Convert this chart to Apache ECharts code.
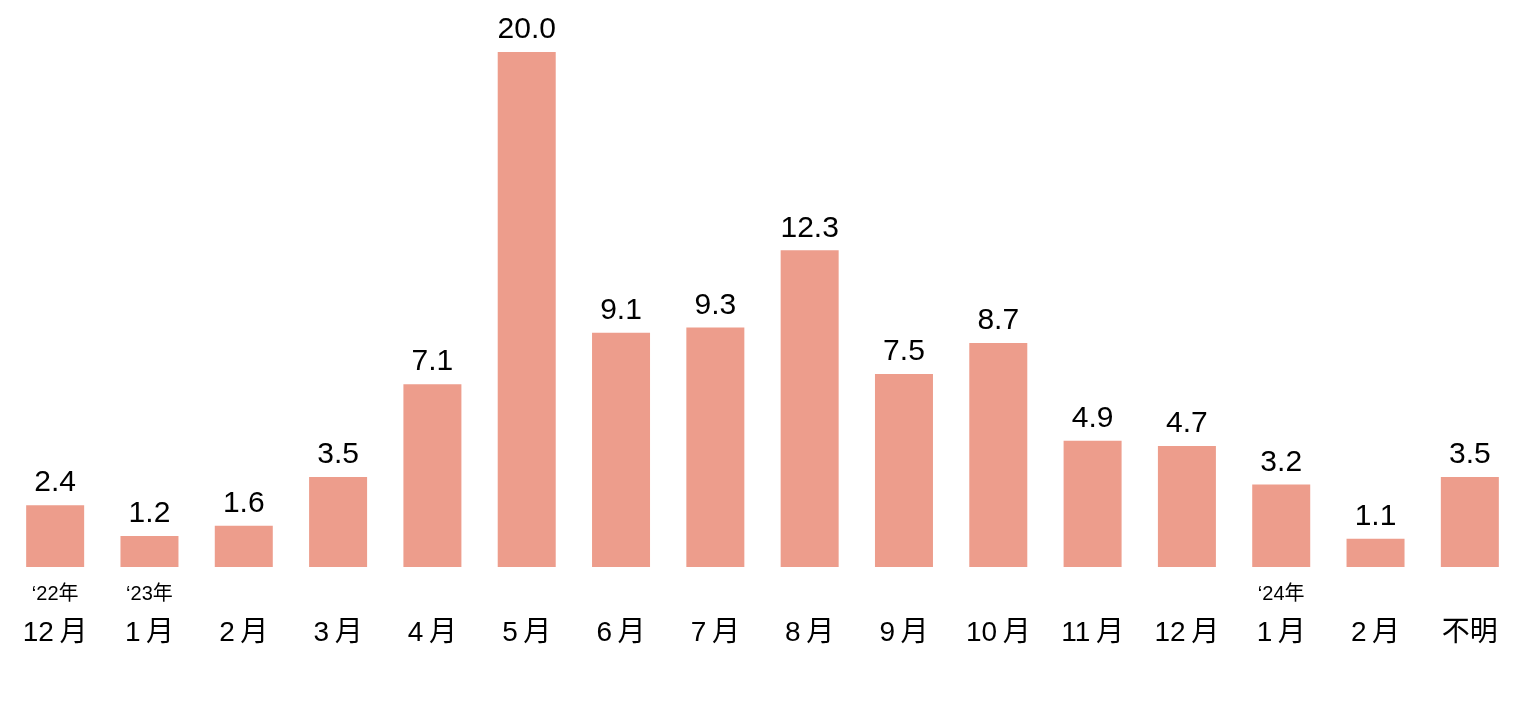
<!DOCTYPE html>
<html>
<head>
<meta charset="utf-8">
<style>
  html, body { margin: 0; padding: 0; background: #fff; }
  #chart { width: 1522px; height: 720px; }
</style>
<script src="https://cdn.jsdelivr.net/npm/echarts@6/dist/echarts.min.js"></script>
</head>
<body>
<div id="chart"></div>
<script>
const months = ['12月', '1月', '2月', '3月', '4月', '5月', '6月', '7月', '8月', '9月', '10月', '11月', '12月', '1月', '2月', '不明'];
const years = ['‘22年', '‘23年', '', '', '', '', '', '', '', '', '', '', '', '‘24年', '', ''];
const values = [2.4, 1.2, 1.6, 3.5, 7.1, 20.0, 9.1, 9.3, 12.3, 7.5, 8.7, 4.9, 4.7, 3.2, 1.1, 3.5];

const font = '"Liberation Sans", "Noto Sans CJK JP", sans-serif';

const chart = echarts.init(document.getElementById('chart'));

chart.setOption({
  animation: false,
  grid: { left: 8, right: 5, top: 52, bottom: 153 },
  xAxis: {
    type: 'category',
    data: months,
    axisLine: { show: false },
    axisTick: { show: false },
    axisLabel: {
      margin: 8,
      interval: 0,
      // 月の前に少し間を空ける
      formatter: (val, idx) => '{y|' + (years[idx] || ' ') + '}\n{m|' + val.replace('月', '\u2009月') + '}',
      rich: {
        y: { fontSize: 20, lineHeight: 39, color: '#000', fontFamily: font },
        m: { fontSize: 28, lineHeight: 39, color: '#000', fontFamily: font }
      }
    }
  },
  yAxis: {
    type: 'value',
    min: 0,
    max: 20,
    show: false
  },
  series: [{
    type: 'bar',
    data: values,
    barWidth: 58,
    itemStyle: { color: '#ED9D8C' },
    label: {
      show: true,
      position: 'top',
      distance: 7,
      color: '#000',
      fontSize: 30,
      fontFamily: font,
      formatter: (p) => p.value.toFixed(1)
    }
  }]
});
</script>
</body>
</html>
